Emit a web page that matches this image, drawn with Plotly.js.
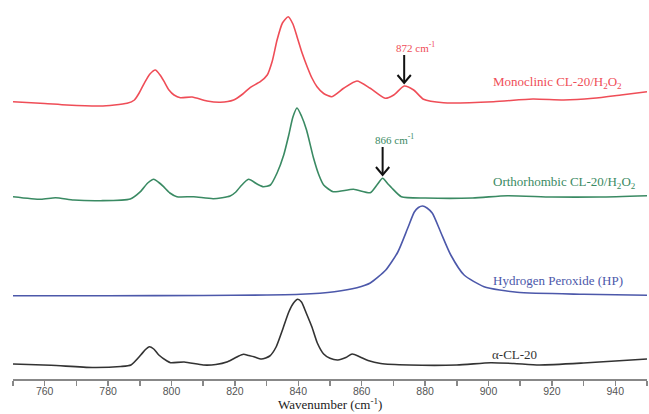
<!DOCTYPE html>
<html>
<head>
<meta charset="utf-8">
<script src="https://cdn.plot.ly/plotly-3.0.1.min.js"></script>
<style>html,body{margin:0;padding:0;background:#fff;}#chart{width:649px;height:414px;}</style>
</head>
<body>
<div id="chart"></div>
<script>
// Series names
const seriesNames = ['Monoclinic CL-20/H<sub>2</sub>O<sub>2</sub>', 'Orthorhombic CL-20/H<sub>2</sub>O<sub>2</sub>', 'Hydrogen Peroxide (HP)', '\u03b1-CL-20'];

// Monoclinic CL-20/H2O2 (wavenumber, relative intensity)
const redX = [750, 760, 767, 777.5, 786, 788.3, 789.8, 791.4, 793.2, 794.9, 796.4, 797.7, 799.2, 800.8, 802.8, 806.5, 811.2, 815.4, 819.6, 822.5, 824.9, 828, 830.2, 831.8, 833.3, 835, 836.8, 838.3, 839.6, 841.2, 842.8, 844.3, 845.9, 848, 850.6, 854.3, 858.5, 862.7, 867.4, 870.1, 873.4, 876.4, 879.5, 885.8, 901.6, 914, 923.7, 933, 941.8, 950];
const redY = [1.3, -0.5, -2, -3, -0.3, 3, 10, 19.7, 29, 33, 28, 21.3, 13, 8, 5.3, 6, 2, 0.7, 3, 9, 15.7, 21.3, 28, 42, 63, 80, 86.3, 79, 66.3, 50, 36.3, 25, 16.3, 9.5, 6.3, 14.7, 22, 14.7, 4.7, 8, 17, 13, 3.7, 0.3, 1.3, 4, 3, 4.7, 8, 11.3];

// Orthorhombic CL-20/H2O2
const greenX = [750, 758.8, 763.4, 769.2, 777.7, 787, 790.2, 792.5, 794.4, 796, 797.5, 799.5, 801.7, 807, 813.2, 818.5, 820.3, 821.7, 824.3, 827, 829, 831.2, 833.3, 835.4, 837, 838.3, 839.6, 841, 842.6, 844.8, 846.5, 848, 851, 857.4, 862.7, 864.8, 866.6, 868.3, 869.5, 872.5, 880, 895, 906, 920, 935, 950];
const greenY = [0.3, -2.3, -0.7, -3, -3.7, -2, 5.3, 14, 17.7, 14.5, 10.3, 4, 0.3, 0.3, -1.7, 1, 5, 10.3, 17.7, 13, 10.3, 12, 24, 42, 62, 80, 89, 81, 67, 39, 22, 12, 5.3, 7.7, 4.3, 12, 18.7, 13, 9, 0.3, -1, -1, 1.3, 0, 0, 1.3];

// Hydrogen Peroxide (HP)
const blueX = [750, 780, 810, 830, 840.7, 851.4, 858.5, 862.7, 867.6, 871.4, 874.5, 876.6, 877.9, 879.2, 880.6, 882.3, 884.9, 888.1, 892.3, 898.6, 909, 930, 950];
const blueY = [0.3, 0.3, 0.5, 1, 1.7, 4.3, 8.3, 13, 26, 44, 67.7, 84, 88.5, 90, 88, 82.7, 64, 41, 21, 9.3, 3.7, 1.7, 0.7];

// alpha-CL-20
const blackX = [750, 762, 775, 784, 787.2, 790.3, 791.8, 793, 794.4, 796, 798.6, 799.7, 804, 810, 814, 817.7, 820.8, 822.7, 824.4, 826, 828.4, 831, 833, 835, 837, 838.5, 839.8, 841, 842.5, 844.3, 846, 848, 850, 852.5, 855, 857, 859.5, 862, 866, 875, 890, 900.7, 908, 916, 930, 940, 950];
const blackY = [1, -0.3, -2.5, -1.5, 0, 10, 15.5, 18.3, 16, 10, 4, 2.3, 3, 0, 0.5, 3.3, 8.3, 10.7, 9.5, 8.3, 6, 9, 18, 35, 53, 62, 65.7, 63, 52, 38, 22, 11, 6.7, 5, 7.5, 11, 8, 4.5, 1.5, 0, 0, 2.3, 1.5, 0, 2, 4, 6];

// vertical stacking offsets (red, green, blue, black)
const offsets = [276, 182, 83, 14];

// marked peaks
const peakLabels = ['872 cm<sup>-1</sup>', '866 cm<sup>-1</sup>'];
const peakWn = [873.4, 866.6];

const colors = ['#ef4d57', '#3a8a63', '#4c58aa', '#333333'];
const xs = [redX, greenX, blueX, blackX];
const ys = [redY, greenY, blueY, blackY];
const serif = 'Times New Roman, Liberation Serif, serif';

const traces = xs.map((x, i) => ({
  x: x,
  y: ys[i].map(v => v + offsets[i]),
  type: 'scatter',
  mode: 'lines',
  line: {color: colors[i], width: 1.6, shape: 'spline', smoothing: 0.6},
  hoverinfo: 'skip',
  showlegend: false
}));

const tipY = [offsets[0] + 20, offsets[1] + 22];
const annotations = [];
const shapes = [];
const labelPos = [[900.7, offsets[0] + 21], [900.7, offsets[1] + 15], [900.8, offsets[2] + 16], [900.6, offsets[3] + 11]];
seriesNames.forEach((n, i) => {
  annotations.push({x: labelPos[i][0], y: labelPos[i][1], xref: 'x', yref: 'y', text: n, showarrow: false, xanchor: 'left', yanchor: 'middle', font: {family: serif, size: 13, color: colors[i]}});
});
peakWn.forEach((w, i) => {
  const tip = tipY[i];
  annotations.push({x: w + 3.7, y: tip + 36, xref: 'x', yref: 'y', text: peakLabels[i], showarrow: false, xanchor: 'center', yanchor: 'middle', font: {family: serif, size: 11, color: colors[i]}});
  shapes.push({type: 'line', xref: 'x', yref: 'y', x0: w, x1: w, y0: tip + 1, y1: tip + 28, line: {color: '#111', width: 2}});
  shapes.push({type: 'path', xref: 'x', yref: 'y', path: `M ${w - 2.1},${tip + 8} L ${w},${tip} L ${w + 2.1},${tip + 8}`, line: {color: '#111', width: 2}});
});
// axis title as annotation
annotations.push({x: 0.5, y: -0.067, xref: 'paper', yref: 'paper', text: 'Wavenumber (cm<sup>-1</sup>)', showarrow: false, xanchor: 'center', yanchor: 'middle', font: {family: serif, size: 13, color: '#222'}});

const layout = {
  width: 649, height: 414,
  margin: {l: 13, r: 2, t: 0, b: 35},
  paper_bgcolor: '#fff', plot_bgcolor: '#fff',
  xaxis: {
    range: [750, 950], tick0: 760, dtick: 20,
    showline: true, linecolor: '#888', linewidth: 1.5, ticks: 'outside', ticklen: 5, tickwidth: 1.5, tickcolor: '#888',
    minor: {dtick: 10, tick0: 750, ticks: 'outside', ticklen: 5, tickwidth: 1.5, tickcolor: '#888', showgrid: false},
    showgrid: false, zeroline: false, automargin: false, ticklabelstandoff: -3,
    tickfont: {family: 'Liberation Sans, Arial, sans-serif', size: 10.5, color: '#555'}
  },
  yaxis: {visible: false, range: [0, 379], fixedrange: true},
  annotations: annotations,
  shapes: shapes
};

Plotly.newPlot('chart', traces, layout, {staticPlot: true, displayModeBar: false});
</script>
</body>
</html>
